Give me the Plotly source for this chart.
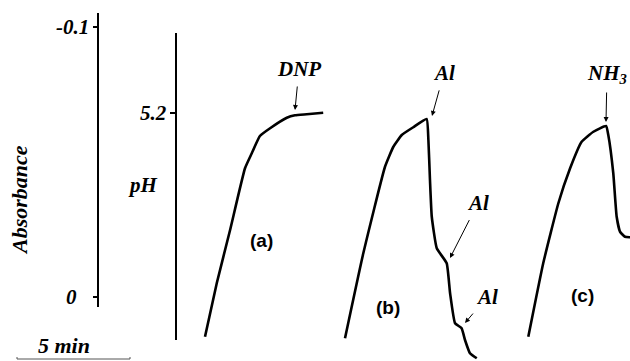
import plotly.graph_objects as go

# ---------------- data (time in minutes from start of each trace, pH) ----------------
t_a = [0, 0.52, 1.11, 1.77, 2.07, 2.43, 2.88, 3.62, 3.98, 4.50, 5.23]
ph_a = [4.305, 4.519, 4.732, 4.979, 5.039, 5.108, 5.139, 5.181, 5.191, 5.195, 5.201]

t_b = [0, 0.81, 1.77, 2.14, 2.51, 3.02, 3.61, 3.69, 3.76, 3.84, 4.06, 4.50, 4.65,
       4.87, 5.16, 5.31, 5.53, 5.83]
ph_b = [4.299, 4.639, 4.985, 5.065, 5.112, 5.143, 5.176, 5.092, 4.932, 4.785, 4.659,
        4.599, 4.479, 4.359, 4.339, 4.292, 4.239, 4.219]

t_c = [0, 0.66, 1.33, 1.85, 2.36, 2.88, 3.44, 3.54, 3.76, 3.91, 4.06, 4.28, 4.50, 4.80]
ph_c = [4.305, 4.599, 4.839, 4.979, 5.085, 5.125, 5.148, 5.112, 4.959, 4.785, 4.725,
        4.705, 4.703, 4.702]

trace_labels = ["(a)", "(b)", "(c)"]
abs_ticks = [-0.1, 0]
abs_tick_labels = ["-0.1", "0"]
ph_ticks = [5.2]
ph_tick_labels = ["5.2"]
scale_minutes = 5

# ---------------- layout helpers ----------------
W, H = 630, 361
PX_PER_MIN = 22.6
PH_REF, PH_REF_Y, PX_PER_PH = 5.2, 113, 250.0
ABS_Y0, ABS_Y1 = 297, 27           # pixel rows of absorbance 0 and -0.1


def fx(px):
    return px / W


def fy(py_):
    return 1 - py_ / H


def tx(px):
    return px / PX_PER_MIN


def ph_at(py_):
    return PH_REF - (py_ - PH_REF_Y) / PX_PER_PH


def abs_at(py_):
    return (py_ - ABS_Y0) * (-0.1) / (ABS_Y1 - ABS_Y0)


offsets = [tx(205), tx(345), tx(528.3)]

SERIF = "Liberation Serif"
SANS = "Liberation Sans"

fig = go.Figure()
for t, p, off in zip([t_a, t_b, t_c], [ph_a, ph_b, ph_c], offsets):
    fig.add_trace(go.Scatter(
        x=[v + off for v in t], y=p, mode="lines",
        line=dict(color="black", width=2.6, shape="spline", smoothing=0.4),
        xaxis="x", yaxis="y3", hoverinfo="skip", showlegend=False))

# invisible marker traces so both drawn axes belong to a subplot
fig.add_trace(go.Scatter(x=[tx(300), tx(300)], y=abs_ticks, mode="markers",
                         marker=dict(opacity=0, size=1), xaxis="x", yaxis="y",
                         hoverinfo="skip", showlegend=False))
fig.add_trace(go.Scatter(x=[tx(300)], y=ph_ticks, mode="markers",
                         marker=dict(opacity=0, size=1), xaxis="x", yaxis="y2",
                         hoverinfo="skip", showlegend=False))

axis_common = dict(showgrid=False, zeroline=False, showline=True, linecolor="black",
                   linewidth=2.2, ticks="outside", tickcolor="black", tickwidth=1.5,
                   showticklabels=False, anchor="free", side="left",
                   automargin=False, fixedrange=True)

fig.update_layout(
    template="none",
    width=W, height=H,
    margin=dict(l=0, r=0, t=0, b=0, pad=0, autoexpand=False),
    paper_bgcolor="white", plot_bgcolor="rgba(0,0,0,0)",
    showlegend=False, hovermode=False,
    xaxis=dict(range=[0, tx(W)], visible=False, domain=[0, 1], fixedrange=True,
               automargin=False, anchor="y3"),
    yaxis=dict(domain=[fy(307), fy(13)], range=[abs_at(307), abs_at(13)],
               tickvals=abs_ticks, ticklen=4, position=fx(98), **axis_common),
    yaxis2=dict(domain=[fy(340), fy(33)], range=[ph_at(340), ph_at(33)],
                tickvals=ph_ticks, ticklen=5, position=fx(176), **axis_common),
    yaxis3=dict(domain=[0, 1], range=[ph_at(H), ph_at(0)], visible=False,
                anchor="x", fixedrange=True, automargin=False),
)

ann = []
lab_font = dict(family=SERIF, size=21, color="black")
# tick labels
ann.append(dict(x=fx(91), y=abs_ticks[0], xref="paper", yref="y", xanchor="right",
                yanchor="middle", text="<b><i>%s</i></b>" % abs_tick_labels[0],
                showarrow=False, font=lab_font))
ann.append(dict(x=fx(79), y=abs_ticks[1], xref="paper", yref="y", xanchor="right",
                yanchor="middle", text="<b><i>%s</i></b>" % abs_tick_labels[1],
                showarrow=False, font=lab_font))
ann.append(dict(x=fx(169), y=ph_ticks[0], xref="paper", yref="y2", xanchor="right",
                yanchor="middle", text="<b><i>%s</i></b>" % ph_tick_labels[0],
                showarrow=False, font=lab_font))
# axis titles
ann.append(dict(x=fx(19), y=fy(200), xref="paper", yref="paper", text="<b><i>Absorbance</i></b>",
                textangle=-90, showarrow=False, xanchor="center", yanchor="middle",
                font=dict(family=SERIF, size=22, color="black")))
ann.append(dict(x=fx(143), y=fy(185), xref="paper", yref="paper", text="<b><i>pH</i></b>",
                showarrow=False, xanchor="center", yanchor="middle", font=lab_font))
# trace labels
for lab, (px, py_) in zip(trace_labels, [(261, 241), (388, 307), (582, 295)]):
    ann.append(dict(x=fx(px), y=fy(py_), xref="paper", yref="paper",
                    text="<b>%s</b>" % lab, showarrow=False,
                    xanchor="center", yanchor="middle",
                    font=dict(family=SANS, size=19, color="black")))

# arrows with reagent labels: (text, text centre px, head px)
arrows = [
    ("DNP", (299, 69), (295, 110)),
    ("Al", (444, 73), (432, 116)),
    ("Al", (478, 203), (450, 258)),
    ("Al", (487, 297), (465, 323)),
    ("NH<sub>3</sub>", (607, 74), (606, 122)),
]
for text, (cx, cy), (hx, hy) in arrows:
    ann.append(dict(x=tx(hx), y=ph_at(hy), xref="x", yref="y3",
                    ax=cx - hx, ay=cy - hy, text="<b><i>%s</i></b>" % text,
                    showarrow=True, arrowhead=2, arrowsize=1, arrowwidth=1,
                    arrowcolor="black", startstandoff=4,
                    font=lab_font))

# scale bar label
ann.append(dict(x=fx(64), y=fy(345), xref="paper", yref="paper",
                text="<b><i>%d min</i></b>" % scale_minutes, showarrow=False,
                xanchor="center", yanchor="middle",
                font=dict(family=SERIF, size=22, color="black")))
fig.update_layout(annotations=ann)

# scale bar
x0 = tx(17)
x1 = x0 + scale_minutes
fig.add_shape(type="line", xref="x", yref="paper", x0=x0, x1=x1, y0=fy(359), y1=fy(359),
              line=dict(color="#555", width=1))
for xv in (x0, x1):
    fig.add_shape(type="line", xref="x", yref="paper", x0=xv, x1=xv, y0=fy(359), y1=fy(357),
                  line=dict(color="#555", width=1))

fig.write_html("out.html", config={"displayModeBar": False, "staticPlot": True},
               post_script="document.body.style.margin='0';document.body.style.overflow='hidden';")
